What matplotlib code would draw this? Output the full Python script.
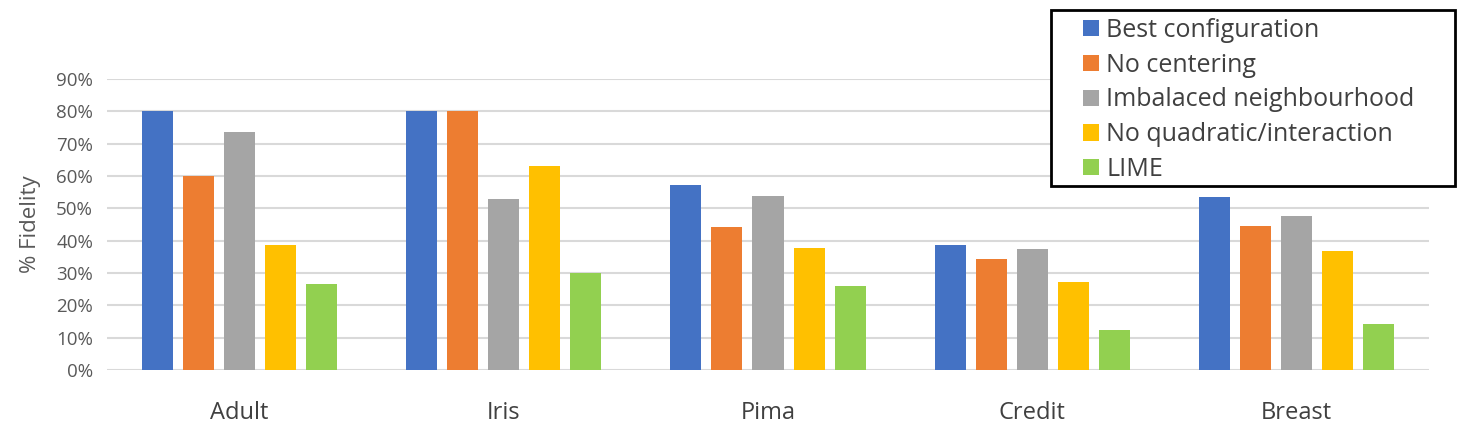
import numpy as np
import matplotlib
matplotlib.use("Agg")
import matplotlib.pyplot as plt
from matplotlib.patches import Patch, Rectangle
from matplotlib.ticker import PercentFormatter

plt.rcParams['font.family'] = ['Open Sans', 'DejaVu Sans']

# Данные
datasets = ["Adult", "Iris", "Pima", "Credit", "Breast"]
methods = ["Best configuration", "No centering", "Imbalaced neighbourhood",
           "No quadratic/interaction", "LIME"]
best_config = [0.80, 0.80, 0.572, 0.388, 0.534]
no_centering = [0.60, 0.80, 0.443, 0.342, 0.446]
imbalanced = [0.736, 0.529, 0.538, 0.375, 0.476]
no_quadratic = [0.387, 0.631, 0.378, 0.271, 0.367]
lime = [0.266, 0.300, 0.259, 0.124, 0.142]
yticks = np.arange(0, 1.0, 0.1)

series = [best_config, no_centering, imbalanced, no_quadratic, lime]
colors = ["#4472C4", "#ED7D31", "#A5A5A5", "#FFC000", "#92D050"]

W, H = 1475, 433
fig = plt.figure(figsize=(W / 100, H / 100), dpi=100)
ax = fig.add_axes([107 / W, 1 - 370 / H, (1429 - 107) / W, (370 - 79) / H])

x = np.arange(len(datasets))
step = 41 / 264
width = 31 / 264
for i, (vals, color) in enumerate(zip(series, colors)):
    ax.bar(x + (i - 2) * step, vals, width=width, color=color, zorder=3, label=methods[i])

ax.set_xlim(-0.5, len(datasets) - 0.5)
ax.set_ylim(0, 0.9)
ax.set_yticks(yticks)
ax.yaxis.set_major_formatter(PercentFormatter(1.0, decimals=0))
ax.set_xticks(x)
ax.set_xticklabels(datasets, fontsize=17, color="#404040")
ax.tick_params(axis='y', labelsize=13.5, colors="#595959", length=0, pad=10)
ax.tick_params(axis='x', length=0, pad=22)
ax.grid(axis='y', color="#D9D9D9", linewidth=1.5, zorder=0)
for s in ax.spines.values():
    s.set_visible(False)
ax.set_ylabel("% Fidelity", fontsize=16, color="#595959", labelpad=11)

# Рамка легенды
fig.patches.append(Rectangle((1051 / W, 1 - 186 / H), (1455 - 1051) / W, (186 - 10) / H,
                             transform=fig.transFigure, facecolor="white",
                             edgecolor="black", linewidth=2, zorder=5))

# Легенда
handles = [Patch(facecolor=c, label=m) for c, m in zip(colors, methods)]
leg = fig.legend(handles=handles, loc='upper left',
                 bbox_to_anchor=(1083 / W, 1 - 18 / H),
                 fontsize=18, frameon=False,
                 handlelength=0.62, handleheight=0.62, handletextpad=0.32,
                 labelspacing=0.39, borderpad=0, borderaxespad=0,
                 labelcolor="#404040")
leg.set_zorder(6)

fig.savefig("out.png", dpi=100)
